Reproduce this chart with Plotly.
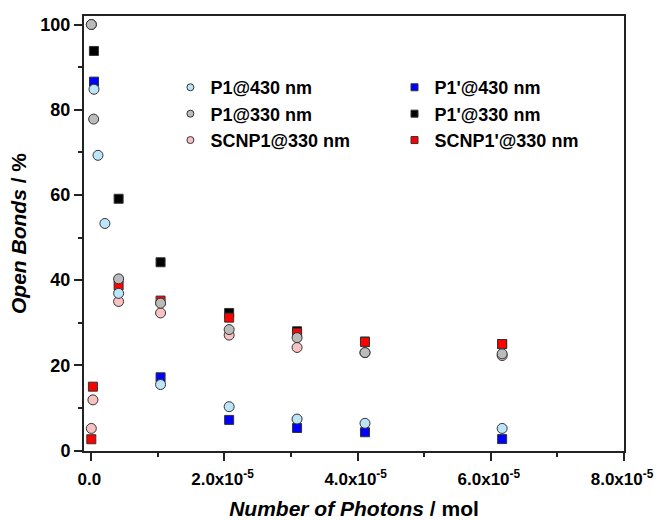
import plotly.graph_objects as go

# ---- data ----
p1_430_x = [0, 4e-7, 1.0e-6, 2.04e-6, 4.1e-6, 1.04e-5, 2.07e-5, 3.09e-5, 4.11e-5, 6.17e-5]
p1_430_y = [100, 84.8, 69.3, 53.3, 36.9, 15.5, 10.3, 7.4, 6.4, 5.2]

p1p_430_x = [4e-7, 1.04e-5, 2.07e-5, 3.09e-5, 4.11e-5, 6.17e-5]
p1p_430_y = [86.6, 17.2, 7.2, 5.3, 4.3, 2.7]

p1_330_x = [0, 3.5e-7, 4.1e-6, 1.04e-5, 2.07e-5, 3.09e-5, 4.11e-5, 6.17e-5]
p1_330_y = [100, 77.8, 40.3, 34.6, 28.4, 26.5, 23.0, 22.7]

p1p_330_x = [3.9e-7, 4.1e-6, 1.04e-5, 2.07e-5, 3.09e-5, 4.11e-5, 6.17e-5]
p1p_330_y = [93.8, 59.1, 44.2, 32.3, 28.0, 25.6, 25.0]

scnp1_330_x = [0, 2.4e-7, 4.1e-6, 1.04e-5, 2.07e-5, 3.09e-5, 4.11e-5, 6.17e-5]
scnp1_330_y = [5.2, 11.9, 35.0, 32.3, 27.1, 24.2, 23.0, 22.3]

scnp1p_330_x = [0, 2.4e-7, 4.1e-6, 1.04e-5, 2.07e-5, 3.09e-5, 4.11e-5, 6.17e-5]
scnp1p_330_y = [2.66, 15.0, 38.8, 35.2, 31.2, 27.6, 25.5, 25.0]

x_tickvals = [0, 2e-5, 4e-5, 6e-5, 8e-5]
x_ticktext = ["0.0", "2.0x10<sup>-5</sup>", "4.0x10<sup>-5</sup>",
              "6.0x10<sup>-5</sup>", "8.0x10<sup>-5</sup>"]
x_minor = [1e-5, 3e-5, 5e-5, 7e-5]

FONT = "Liberation Sans, Arial, sans-serif"
EDGE = "#333333"

fig = go.Figure()

def add(x, y, name, symbol, color, size, legend, rank):
    # data marks
    fig.add_trace(go.Scatter(
        x=x, y=y, mode="markers", name=name, showlegend=False,
        marker=dict(symbol=symbol, color=color, size=size,
                    line=dict(color=EDGE, width=1)),
    ))
    # legend entry (smaller symbol, like the reference)
    fig.add_trace(go.Scatter(
        x=[None], y=[None], mode="markers", name=name, legend=legend,
        legendrank=rank, showlegend=True,
        marker=dict(symbol=symbol, color=color, size=7,
                    line=dict(color=EDGE, width=1)),
    ))

# draw order: squares below circles
add(p1p_330_x, p1p_330_y, "P1'@330 nm", "square", "#000000", 9, "legend2", 2)
add(p1p_430_x, p1p_430_y, "P1'@430 nm", "square", "#0000FF", 9, "legend2", 1)
add(scnp1p_330_x, scnp1p_330_y, "SCNP1'@330 nm", "square", "#FF0000", 9, "legend2", 3)
add(scnp1_330_x, scnp1_330_y, "SCNP1@330 nm", "circle", "#F8C2C2", 10, "legend", 3)
add(p1_430_x, p1_430_y, "P1@430 nm", "circle", "#BDE5F8", 10, "legend", 1)
add(p1_330_x, p1_330_y, "P1@330 nm", "circle", "#BBBBBB", 10, "legend", 2)

leg_common = dict(
    font=dict(family=FONT, size=18, color="#000000", weight=700),
    bgcolor="rgba(0,0,0,0)", borderwidth=0, orientation="v",
    tracegroupgap=0, itemsizing="trace", xanchor="left", yanchor="top",
    traceorder="normal",
)

fig.update_layout(
    width=659, height=520,
    margin=dict(l=84, r=35, t=16, b=69),
    paper_bgcolor="white", plot_bgcolor="white",
    font=dict(family=FONT, color="#000000"),
    legend=dict(x=0.16, y=0.878, **leg_common),
    legend2=dict(x=0.575, y=0.878, **leg_common),
    xaxis=dict(
        range=[-1.1e-6, 8.0e-5], automargin=False,
        tickmode="array", tickvals=x_tickvals, ticktext=x_ticktext,
        ticks="outside", ticklen=8, tickwidth=1.5, tickcolor="#222222",
        tickfont=dict(family=FONT, size=17, weight=700),
        ticklabelstandoff=4, ticklabelshift=-2,
        minor=dict(tickmode="array", tickvals=x_minor, ticks="outside",
                   ticklen=4, tickwidth=1.5, tickcolor="#222222"),
        showline=True, linecolor="#222222", linewidth=2, mirror=True,
        showgrid=False, zeroline=False,
        title=dict(text="<b><i>Number of Photons</i> / mol</b>",
                   font=dict(family=FONT, size=21), standoff=22),
    ),
    yaxis=dict(
        range=[-0.1, 102], automargin=False,
        tickmode="linear", tick0=0, dtick=20,
        ticks="outside", ticklen=8, tickwidth=1.5, tickcolor="#222222",
        tickfont=dict(family=FONT, size=18, weight=700),
        minor=dict(dtick=10, tick0=0, ticks="outside", ticklen=4,
                   tickwidth=1.5, tickcolor="#222222"),
        showline=True, linecolor="#222222", linewidth=2, mirror=True,
        showgrid=False, zeroline=False,
        title=dict(text="<b><i>Open Bonds</i> / %</b>",
                   font=dict(family=FONT, size=21), standoff=8),
    ),
)

fig.write_html("out.html", config={"displayModeBar": False},
               post_script="document.body.style.margin='0px';")
